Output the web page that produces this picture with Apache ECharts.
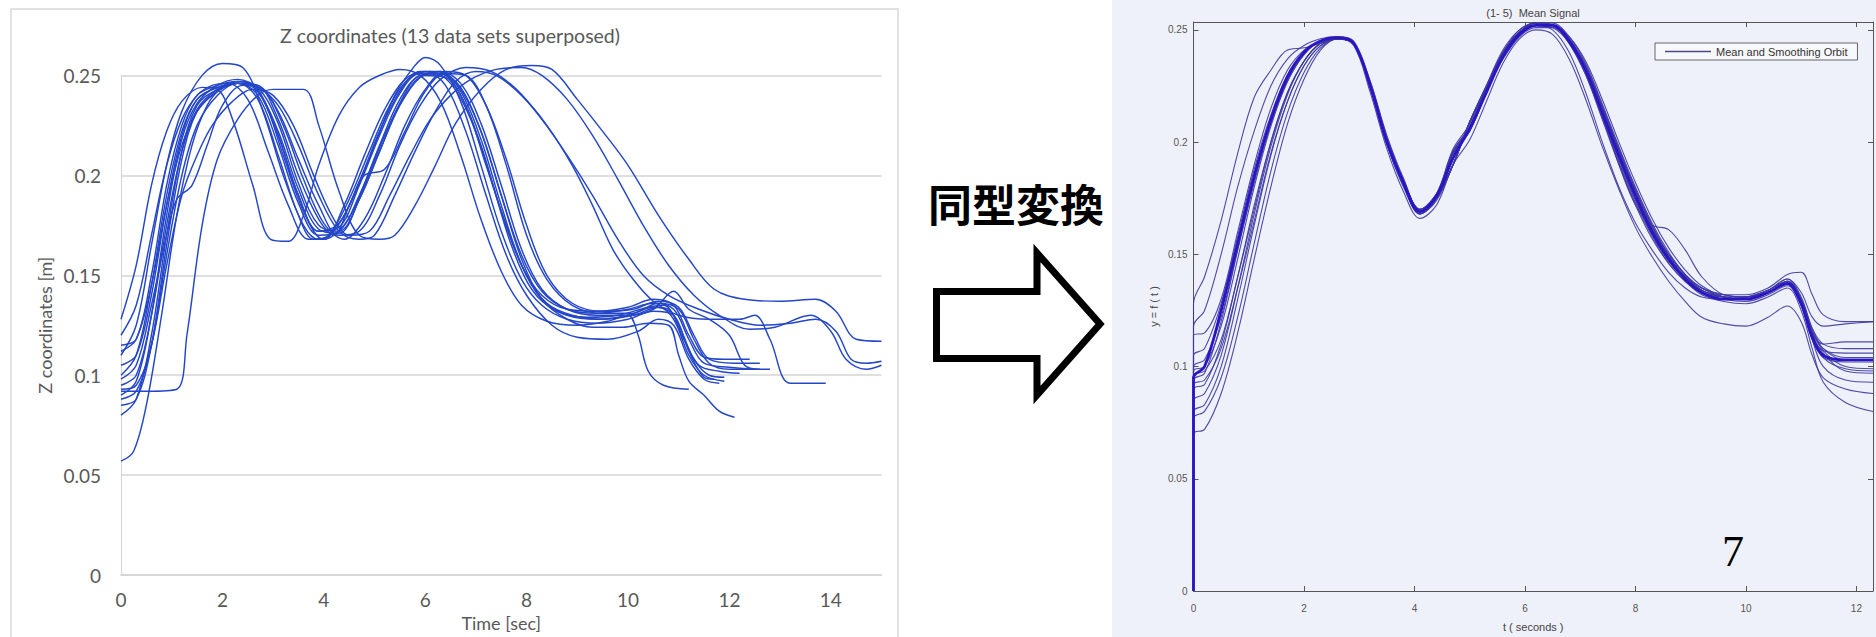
<!DOCTYPE html>
<html><head><meta charset="utf-8">
<script src="https://cdn.jsdelivr.net/npm/echarts@6/dist/echarts.min.js"></script>
<style>html,body{margin:0;padding:0;background:#fff}#c{width:1876px;height:637px}</style>
</head><body><div id="c"></div>
<script>
// ---------- left chart: Z coordinates (time [s], z [m]) ----------
const leftTitle = 'Z coordinates (13 data sets superposed)';
const leftXName = 'Time [sec]';
const leftYName = 'Z coordinates [m]';
const leftXTicks = [0, 2, 4, 6, 8, 10, 12, 14];
const leftXTickLabels = ['0', '2', '4', '6', '8', '10', '12', '14'];
const leftYTicks = [0, 0.05, 0.1, 0.15, 0.2, 0.25];
const leftYTickLabels = ['0', '0.05', '0.1', '0.15', '0.2', '0.25'];

const zSet01 = [[0,0.057],[0.25,0.062],[0.5,0.085],[0.8,0.13],[1.1,0.18],[1.4,0.215],[1.7,0.235],[2.0,0.244],[2.4,0.247],[2.8,0.238],[3.2,0.21],[3.6,0.182],[4.0,0.168],[4.4,0.175],[4.8,0.195],[5.2,0.22],[5.6,0.24],[6.0,0.25],[6.4,0.249],[6.8,0.235],[7.2,0.205],[7.6,0.175],[8.0,0.15],[8.4,0.136],[8.9,0.13],[9.5,0.128],[10.1,0.13],[10.6,0.134],[10.9,0.128],[11.2,0.11],[11.5,0.1],[11.9,0.097]];
const zSet02 = [[0,0.092],[0.5,0.092],[1.1,0.093],[1.3,0.12],[1.6,0.175],[1.9,0.208],[2.3,0.228],[2.7,0.24],[3.0,0.243],[3.6,0.243],[3.9,0.225],[4.3,0.192],[4.7,0.17],[5.1,0.168],[5.4,0.17],[5.8,0.185],[6.2,0.205],[6.6,0.226],[7.1,0.243],[7.6,0.253],[8.1,0.255],[8.5,0.253],[9.0,0.238],[9.5,0.222],[10.0,0.205],[10.6,0.18],[11.2,0.158],[11.7,0.143],[12.3,0.138],[13.0,0.137],[13.7,0.138],[14.1,0.132],[14.5,0.118],[15,0.117]];
const zSet03 = [[0,0.128],[0.3,0.155],[0.6,0.195],[0.9,0.222],[1.2,0.237],[1.6,0.244],[1.9,0.243],[2.2,0.228],[2.6,0.195],[2.95,0.168],[3.3,0.167],[3.6,0.18],[3.9,0.205],[4.3,0.23],[4.7,0.244],[5.1,0.25],[5.5,0.253],[5.9,0.25],[6.3,0.237],[6.7,0.21],[7.1,0.178],[7.5,0.152],[7.9,0.135],[8.4,0.127],[9.0,0.125],[9.6,0.127],[10.0,0.13],[10.2,0.12],[10.4,0.102],[10.7,0.095],[11.2,0.093]];
const zSet04 = [[0,0.11],[0.3,0.125],[0.6,0.165],[0.9,0.205],[1.2,0.232],[1.6,0.25],[2.0,0.256],[2.4,0.254],[2.8,0.232],[3.2,0.2],[3.6,0.175],[3.9,0.168],[4.2,0.172],[4.6,0.19],[5.0,0.215],[5.4,0.24],[5.8,0.255],[6.0,0.259],[6.3,0.255],[6.7,0.237],[7.1,0.205],[7.5,0.172],[7.9,0.148],[8.3,0.135],[8.8,0.128],[9.4,0.126],[10.0,0.128],[10.5,0.132],[10.9,0.13],[11.2,0.112],[11.5,0.099],[11.7,0.098]];
const zSet05 = [[0,0.08],[0.3,0.088],[0.6,0.12],[0.9,0.17],[1.2,0.212],[1.5,0.235],[1.9,0.243],[2.3,0.246],[2.7,0.24],[3.1,0.215],[3.5,0.186],[3.9,0.17],[4.3,0.172],[4.7,0.19],[5.1,0.215],[5.5,0.238],[5.9,0.25],[6.3,0.251],[6.7,0.243],[7.1,0.222],[7.5,0.19],[7.9,0.16],[8.3,0.142],[8.8,0.133],[9.4,0.131],[10.0,0.133],[10.5,0.136],[10.9,0.133],[11.2,0.118],[11.5,0.106],[12.0,0.104],[12.5,0.103]];
const zSet06 = [[0,0.09],[0.3,0.097],[0.6,0.13],[0.9,0.18],[1.2,0.218],[1.5,0.236],[1.9,0.245],[2.3,0.248],[2.7,0.243],[3.1,0.22],[3.5,0.19],[3.9,0.172],[4.3,0.176],[4.7,0.197],[5.1,0.222],[5.5,0.242],[5.9,0.252],[6.3,0.252],[6.7,0.242],[7.1,0.218],[7.5,0.185],[7.9,0.155],[8.3,0.138],[8.8,0.13],[9.4,0.128],[10.0,0.13],[10.5,0.134],[10.8,0.133],[11.1,0.118],[11.4,0.105],[11.8,0.102],[12.2,0.101]];
const zSet07 = [[0,0.1],[0.3,0.11],[0.6,0.145],[0.9,0.19],[1.2,0.222],[1.5,0.238],[1.9,0.244],[2.3,0.246],[2.7,0.238],[3.1,0.21],[3.5,0.18],[3.8,0.168],[4.1,0.17],[4.5,0.188],[4.9,0.212],[5.3,0.235],[5.7,0.249],[6.1,0.252],[6.5,0.246],[6.9,0.228],[7.3,0.198],[7.7,0.165],[8.1,0.143],[8.6,0.132],[9.2,0.129],[9.8,0.13],[10.4,0.134],[10.7,0.135],[11.0,0.125],[11.3,0.108],[11.6,0.1],[11.9,0.099]];
const zSet08 = [[0,0.115],[0.3,0.118],[0.6,0.15],[0.9,0.195],[1.2,0.225],[1.5,0.24],[1.9,0.245],[2.3,0.247],[2.7,0.242],[3.1,0.22],[3.5,0.19],[3.9,0.172],[4.3,0.174],[4.7,0.195],[5.1,0.22],[5.5,0.241],[5.9,0.251],[6.3,0.251],[6.7,0.24],[7.1,0.215],[7.5,0.182],[7.9,0.155],[8.3,0.14],[8.8,0.133],[9.4,0.132],[10.0,0.134],[10.5,0.138],[10.9,0.135],[11.2,0.12],[11.5,0.109],[11.9,0.108],[12.4,0.108]];
const zSet09 = [[0,0.088],[0.3,0.092],[0.6,0.115],[0.9,0.16],[1.2,0.2],[1.5,0.225],[1.9,0.24],[2.3,0.246],[2.7,0.245],[3.1,0.228],[3.5,0.2],[3.9,0.178],[4.2,0.17],[4.5,0.185],[4.8,0.2],[5.2,0.203],[5.6,0.222],[6.0,0.242],[6.4,0.251],[6.8,0.25],[7.2,0.235],[7.6,0.205],[8.0,0.17],[8.4,0.148],[8.9,0.135],[9.5,0.131],[10.1,0.131],[10.6,0.136],[11.0,0.133],[11.3,0.118],[11.6,0.106],[12.0,0.103],[12.8,0.103]];
const zSet10 = [[0,0.105],[0.3,0.11],[0.6,0.14],[0.9,0.185],[1.2,0.22],[1.5,0.238],[1.9,0.244],[2.3,0.246],[2.7,0.244],[3.1,0.235],[3.5,0.215],[3.9,0.19],[4.3,0.172],[4.7,0.168],[5.0,0.17],[5.4,0.19],[5.8,0.212],[6.2,0.232],[6.6,0.247],[7.0,0.252],[7.4,0.25],[7.9,0.24],[8.4,0.225],[8.9,0.205],[9.3,0.185],[9.7,0.163],[10.1,0.148],[10.5,0.137],[11.0,0.13],[11.6,0.128],[12.2,0.128],[12.5,0.13],[12.8,0.118],[13.2,0.096],[13.9,0.096]];
const zSet11 = [[0,0.093],[0.3,0.095],[0.6,0.115],[0.9,0.155],[1.2,0.19],[1.5,0.21],[1.8,0.225],[2.2,0.237],[2.6,0.243],[3.0,0.24],[3.4,0.225],[3.8,0.2],[4.2,0.178],[4.5,0.17],[4.9,0.172],[5.3,0.19],[5.7,0.21],[6.1,0.228],[6.5,0.24],[6.9,0.248],[7.4,0.253],[7.9,0.254],[8.3,0.25],[8.8,0.238],[9.3,0.22],[9.8,0.198],[10.3,0.175],[10.8,0.155],[11.3,0.14],[11.8,0.13],[12.4,0.123],[12.9,0.124],[13.6,0.13],[14.0,0.122],[14.3,0.108],[14.7,0.103],[15,0.105]];
const zSet12 = [[0,0.112],[0.3,0.118],[0.6,0.145],[0.9,0.185],[1.2,0.215],[1.5,0.232],[1.9,0.242],[2.3,0.246],[2.7,0.245],[3.1,0.232],[3.5,0.208],[3.9,0.185],[4.3,0.17],[4.7,0.172],[5.1,0.19],[5.5,0.215],[5.9,0.235],[6.3,0.248],[6.8,0.254],[7.3,0.252],[7.8,0.243],[8.3,0.228],[8.8,0.21],[9.3,0.19],[9.8,0.168],[10.3,0.15],[10.8,0.14],[11.4,0.133],[12.0,0.128],[12.6,0.125],[13.2,0.126],[13.7,0.128],[14.1,0.122],[14.4,0.108],[14.7,0.106],[15,0.107]];
const zSet13 = [[0,0.095],[0.3,0.1],[0.6,0.13],[0.9,0.175],[1.2,0.212],[1.5,0.233],[1.9,0.243],[2.3,0.247],[2.7,0.244],[3.1,0.226],[3.5,0.196],[3.9,0.175],[4.3,0.172],[4.7,0.188],[5.1,0.212],[5.5,0.235],[5.9,0.249],[6.3,0.252],[6.7,0.246],[7.1,0.226],[7.5,0.195],[7.9,0.163],[8.3,0.143],[8.8,0.133],[9.4,0.13],[10.0,0.13],[10.5,0.133],[10.9,0.142],[11.2,0.133],[11.6,0.128],[12.0,0.12],[12.3,0.105],[12.6,0.103]];
const zSet14 = [[0,0.085],[0.3,0.088],[0.6,0.115],[0.9,0.165],[1.2,0.208],[1.5,0.232],[1.9,0.242],[2.3,0.246],[2.7,0.242],[3.1,0.222],[3.5,0.193],[3.9,0.173],[4.3,0.171],[4.7,0.188],[5.1,0.212],[5.5,0.236],[5.9,0.25],[6.3,0.251],[6.7,0.244],[7.1,0.222],[7.5,0.19],[7.9,0.158],[8.3,0.138],[8.8,0.128],[9.3,0.124],[9.9,0.124],[10.4,0.126],[10.8,0.125],[11.0,0.11],[11.2,0.097],[11.5,0.09],[11.8,0.082],[12.1,0.079]];
const zSet15 = [[0,0.12],[0.3,0.135],[0.6,0.17],[0.9,0.205],[1.2,0.228],[1.5,0.24],[1.8,0.245],[2.1,0.246],[2.5,0.238],[2.9,0.212],[3.3,0.185],[3.7,0.168],[4.0,0.168],[4.4,0.185],[4.8,0.21],[5.2,0.233],[5.6,0.248],[6.0,0.252],[6.4,0.245],[6.8,0.222],[7.2,0.19],[7.6,0.16],[8.0,0.14],[8.5,0.125],[9.0,0.119],[9.6,0.118],[10.2,0.122],[10.6,0.128],[10.9,0.125],[11.2,0.108],[11.5,0.098],[11.8,0.096]];
const zSet16 = [[0,0.098],[0.3,0.105],[0.6,0.135],[0.9,0.17],[1.1,0.188],[1.4,0.195],[1.7,0.215],[2.0,0.235],[2.4,0.245],[2.8,0.243],[3.2,0.225],[3.6,0.198],[4.0,0.176],[4.4,0.168],[4.8,0.178],[5.2,0.2],[5.6,0.225],[6.0,0.243],[6.4,0.252],[6.8,0.25],[7.2,0.235],[7.6,0.208],[8.0,0.175],[8.4,0.15],[8.9,0.136],[9.5,0.132],[10.1,0.133],[10.6,0.137],[11.0,0.134],[11.3,0.12],[11.6,0.108],[12.1,0.106],[12.6,0.106]];
const leftSets = [zSet01,zSet02,zSet03,zSet04,zSet05,zSet06,zSet07,zSet08,zSet09,zSet10,zSet11,zSet12,zSet13,zSet14,zSet15,zSet16];

// ---------- right chart: (1- 5) Mean Signal ----------
const rightTitle = '(1- 5)  Mean Signal';
const rightXName = 't ( seconds )';
const rightYName = 'y = f ( t )';
const rightLegendName = 'Mean and Smoothing Orbit';
const rightXTicks = [0, 2, 4, 6, 8, 10, 12];
const rightXTickLabels = ['0', '2', '4', '6', '8', '10', '12'];
const rightYTicks = [0, 0.05, 0.1, 0.15, 0.2, 0.25];
const rightYTickLabels = ['0', '0.05', '0.1', '0.15', '0.2', '0.25'];
const rightT = [0,0,0.2,0.5,0.8,1.1,1.4,1.7,2.0,2.3,2.6,2.9,3.2,3.5,3.8,4.1,4.4,4.7,5.0,5.3,5.6,5.9,6.2,6.5,6.8,7.1,7.4,7.7,8.0,8.3,8.6,8.9,9.2,9.6,10.0,10.4,10.75,11.0,11.2,11.4,11.8,12.3];
const fSig01 = [0,0.128,0.14,0.165,0.195,0.22,0.232,0.241,0.242,0.244,0.246,0.244,0.226,0.202,0.183,0.17,0.177,0.196,0.206,0.224,0.24,0.249,0.252,0.25,0.24,0.222,0.2,0.18,0.164,0.152,0.142,0.135,0.131,0.13,0.131,0.134,0.138,0.13,0.117,0.11,0.108,0.108];
const fSig02 = [0,0.118,0.125,0.15,0.18,0.205,0.225,0.237,0.243,0.246,0.247,0.245,0.227,0.203,0.184,0.17,0.175,0.19,0.209,0.224,0.239,0.249,0.253,0.252,0.244,0.23,0.21,0.19,0.172,0.157,0.146,0.138,0.133,0.131,0.131,0.134,0.139,0.133,0.122,0.118,0.119,0.12];
const fSig03 = [0,0.114,0.115,0.13,0.16,0.19,0.215,0.232,0.241,0.245,0.246,0.244,0.225,0.2,0.182,0.169,0.176,0.196,0.207,0.224,0.24,0.249,0.253,0.252,0.245,0.232,0.213,0.193,0.175,0.159,0.147,0.139,0.133,0.13,0.13,0.133,0.137,0.128,0.115,0.11,0.111,0.111];
const fSig04 = [0,0.105,0.108,0.128,0.158,0.188,0.212,0.23,0.24,0.245,0.246,0.244,0.224,0.199,0.181,0.168,0.175,0.19,0.209,0.224,0.238,0.248,0.252,0.252,0.246,0.233,0.215,0.196,0.178,0.162,0.149,0.14,0.134,0.131,0.131,0.134,0.138,0.129,0.114,0.107,0.106,0.106];
const fSig05 = [0,0.098,0.1,0.118,0.148,0.18,0.207,0.227,0.239,0.245,0.246,0.244,0.225,0.2,0.181,0.169,0.176,0.196,0.206,0.223,0.239,0.249,0.252,0.251,0.244,0.23,0.211,0.192,0.174,0.159,0.147,0.139,0.133,0.13,0.129,0.132,0.136,0.127,0.112,0.104,0.102,0.102];
const fSig06 = [0,0.096,0.098,0.112,0.14,0.172,0.2,0.222,0.236,0.244,0.246,0.244,0.226,0.201,0.182,0.169,0.175,0.19,0.209,0.223,0.237,0.247,0.251,0.251,0.245,0.232,0.214,0.195,0.177,0.161,0.149,0.14,0.134,0.131,0.13,0.133,0.137,0.129,0.115,0.108,0.104,0.104];
const fSig07 = [0,0.094,0.097,0.12,0.152,0.183,0.209,0.228,0.24,0.245,0.246,0.244,0.224,0.199,0.18,0.168,0.175,0.195,0.205,0.222,0.238,0.248,0.252,0.252,0.246,0.234,0.216,0.197,0.179,0.163,0.15,0.141,0.135,0.131,0.13,0.133,0.138,0.13,0.116,0.107,0.1,0.099];
const fSig08 = [0,0.092,0.094,0.108,0.135,0.165,0.195,0.218,0.234,0.243,0.246,0.244,0.225,0.2,0.181,0.168,0.174,0.19,0.209,0.223,0.237,0.247,0.252,0.252,0.246,0.233,0.215,0.196,0.178,0.162,0.15,0.141,0.135,0.132,0.131,0.134,0.139,0.131,0.117,0.108,0.103,0.103];
const fSig09 = [0,0.09,0.092,0.11,0.14,0.17,0.2,0.222,0.236,0.244,0.246,0.244,0.226,0.202,0.183,0.17,0.177,0.197,0.208,0.225,0.241,0.25,0.253,0.252,0.245,0.232,0.212,0.19,0.172,0.163,0.161,0.152,0.14,0.132,0.131,0.133,0.137,0.129,0.114,0.106,0.098,0.097];
const fSig10 = [0,0.085,0.088,0.105,0.135,0.168,0.198,0.221,0.236,0.244,0.246,0.243,0.222,0.197,0.178,0.166,0.172,0.19,0.201,0.218,0.235,0.246,0.25,0.248,0.237,0.219,0.198,0.179,0.162,0.149,0.138,0.129,0.122,0.119,0.118,0.122,0.127,0.12,0.105,0.095,0.09,0.088];
const fSig11 = [0,0.08,0.083,0.1,0.13,0.163,0.194,0.218,0.234,0.243,0.246,0.244,0.226,0.201,0.182,0.169,0.176,0.19,0.209,0.225,0.239,0.249,0.253,0.253,0.247,0.235,0.217,0.198,0.18,0.164,0.151,0.141,0.135,0.131,0.13,0.133,0.137,0.128,0.112,0.1,0.094,0.093];
const fSig12 = [0,0.077,0.08,0.095,0.122,0.155,0.187,0.213,0.231,0.242,0.246,0.244,0.225,0.2,0.181,0.168,0.175,0.195,0.205,0.222,0.238,0.248,0.252,0.252,0.246,0.234,0.216,0.197,0.179,0.163,0.15,0.141,0.134,0.131,0.13,0.133,0.138,0.13,0.115,0.104,0.099,0.098];
const fSig13 = [0,0.07,0.072,0.088,0.115,0.148,0.18,0.208,0.228,0.241,0.246,0.244,0.227,0.202,0.183,0.17,0.177,0.19,0.209,0.225,0.24,0.25,0.253,0.252,0.245,0.231,0.211,0.191,0.173,0.158,0.146,0.138,0.132,0.129,0.128,0.131,0.135,0.125,0.108,0.093,0.084,0.08];
const fSig14 = [0,0.1,0.103,0.122,0.152,0.182,0.208,0.227,0.239,0.245,0.246,0.244,0.226,0.201,0.182,0.169,0.176,0.195,0.205,0.222,0.238,0.248,0.252,0.252,0.247,0.236,0.219,0.2,0.182,0.166,0.153,0.143,0.136,0.132,0.132,0.135,0.141,0.142,0.132,0.123,0.12,0.12];
const fMean  = [0,0.095,0.1,0.125,0.155,0.185,0.21,0.229,0.24,0.245,0.2465,0.244,0.225,0.2,0.182,0.169,0.176,0.193,0.206,0.222,0.238,0.248,0.252,0.252,0.245,0.232,0.213,0.194,0.176,0.16,0.148,0.139,0.133,0.13,0.13,0.133,0.137,0.128,0.113,0.105,0.103,0.103];
const rightSets = [fSig01,fSig02,fSig03,fSig04,fSig05,fSig06,fSig07,fSig08,fSig09,fSig10,fSig11,fSig12,fSig13,fSig14];

// ---------- annotations ----------
const arrowCaption = '同型変換';
const pageNumber = '7';

// ---------- build ----------
function tickFormatter(ticks, labels) {
  return function (v) {
    for (let i = 0; i < ticks.length; i++) if (Math.abs(ticks[i] - v) < 1e-9) return labels[i];
    return '';
  };
}
function zip(xs, ys) { return ys.map((y, i) => [xs[i], y]); }

const series = [];
leftSets.forEach((d, i) => series.push({
  type: 'line', name: 'z' + (i + 1), xAxisIndex: 0, yAxisIndex: 0, data: d,
  smooth: 0.35, symbol: 'none', clip: false, silent: true,
  lineStyle: { color: '#2446c8', width: 1.45 }
}));
rightSets.forEach((d, i) => series.push({
  type: 'line', name: 'f' + (i + 1), xAxisIndex: 1, yAxisIndex: 1, data: zip(rightT, d),
  smooth: 0.35, symbol: 'none', silent: true,
  lineStyle: { color: '#3c37a0', width: 1.1, opacity: 0.9 }
}));
series.push({
  type: 'line', name: rightLegendName, xAxisIndex: 1, yAxisIndex: 1, data: zip(rightT, fMean),
  smooth: 0.35, symbol: 'none', silent: true,
  itemStyle: { color: '#4a4a80' },
  lineStyle: { color: '#2a14c4', width: 2.8 }
});

const leftFont = 'Lato';
const rightFont = 'Liberation Sans';
const rightAxisCommon = {
  type: 'value', gridIndex: 1,
  axisLine: { show: true, onZero: false, lineStyle: { color: '#555', width: 1 } },
  axisTick: { show: true, inside: true, length: 5, lineStyle: { color: '#555' } },
  splitLine: { show: false }
};

const option = {
  animation: false,
  backgroundColor: '#ffffff',
  grid: [
    { left: 121, top: 75.4, width: 760.5, height: 508.4 },
    { left: 1193.5, top: 22, width: 681, height: 572.6 }
  ],
  legend: {
    data: [{ name: rightLegendName, icon: 'rect' }], left: 1655, top: 43,
    padding: [3, 10, 3, 10], itemWidth: 46, itemHeight: 1.5, itemGap: 6,
    borderColor: '#666', borderWidth: 1, borderRadius: 0, backgroundColor: '#f7f8fc',
    itemStyle: { color: '#4a4a80', borderWidth: 0 },
    textStyle: { fontFamily: rightFont, fontSize: 11, color: '#333' },
    selectedMode: false
  },
  xAxis: [
    { type: 'value', gridIndex: 0, min: 0, max: 15, interval: 2,
      axisLine: { show: true, lineStyle: { color: '#d4d4d4', width: 1.5 } },
      axisTick: { show: false }, splitLine: { show: false },
      axisLabel: { fontFamily: leftFont, fontSize: 19, color: '#595959', margin: 15,
                   formatter: tickFormatter(leftXTicks, leftXTickLabels) },
      name: leftXName, nameLocation: 'middle', nameGap: 37,
      nameTextStyle: { fontFamily: leftFont, fontSize: 18, color: '#595959' } },
    Object.assign({}, rightAxisCommon, { min: 0, max: 12.3, interval: 2, position: 'bottom',
      axisLabel: { fontFamily: rightFont, fontSize: 10, color: '#555', margin: 12,
                   formatter: tickFormatter(rightXTicks, rightXTickLabels) },
      name: rightXName, nameLocation: 'middle', nameGap: 30,
      nameTextStyle: { fontFamily: rightFont, fontSize: 11, color: '#444' } }),
    Object.assign({}, rightAxisCommon, { min: 0, max: 12.3, interval: 2, position: 'top',
      axisLabel: { show: false } })
  ],
  yAxis: [
    { type: 'value', gridIndex: 0, min: 0, max: 0.25, interval: 0.05,
      axisLine: { show: true, lineStyle: { color: '#d4d4d4', width: 1 } },
      axisTick: { show: false },
      splitLine: { show: true, lineStyle: { color: '#d4d4d4', width: 1.5 } },
      axisLabel: { fontFamily: leftFont, fontSize: 19, color: '#595959', margin: 20,
                   formatter: tickFormatter(leftYTicks, leftYTickLabels) },
      name: leftYName, nameLocation: 'middle', nameGap: 67,
      nameTextStyle: { fontFamily: leftFont, fontSize: 18, color: '#595959' } },
    Object.assign({}, rightAxisCommon, { min: 0, max: 0.2535, interval: 0.05, position: 'left',
      axisLabel: { fontFamily: rightFont, fontSize: 10, color: '#555', margin: 6,
                   formatter: tickFormatter(rightYTicks, rightYTickLabels) },
      name: rightYName, nameLocation: 'middle', nameGap: 34,
      nameTextStyle: { fontFamily: rightFont, fontSize: 11, color: '#444' } }),
    Object.assign({}, rightAxisCommon, { min: 0, max: 0.2535, interval: 0.05, position: 'right',
      axisLabel: { show: false } })
  ],
  graphic: [
    { type: 'rect', silent: true, z: -10, shape: { x: 1112, y: 0, width: 764, height: 637 },
      style: { fill: '#eff1fa' } },
    { type: 'rect', silent: true, z: -10, shape: { x: 11, y: 9, width: 887, height: 640 },
      style: { fill: '#ffffff', stroke: '#d9d9d9', lineWidth: 1.5 } },
    { type: 'text', silent: true, z: 50, x: 450, y: 35,
      style: { text: leftTitle, fontFamily: leftFont, fontSize: 19.5, fill: '#595959',
               align: 'center', verticalAlign: 'middle' } },
    { type: 'text', silent: true, z: 50, x: 1533, y: 13,
      style: { text: rightTitle, fontFamily: rightFont, fontSize: 11, fill: '#444',
               align: 'center', verticalAlign: 'middle' } },
    { type: 'text', silent: true, z: 50, x: 1016, y: 203,
      style: { text: arrowCaption, fontFamily: 'Noto Sans CJK JP', fontWeight: 'bold', fontSize: 44,
               fill: '#000', align: 'center', verticalAlign: 'middle' } },
    { type: 'polygon', silent: true, z: 50,
      shape: { points: [[936.5,291.5],[1037,291.5],[1037,253],[1100,324],[1037,395],[1037,358.5],[936.5,358.5]] },
      style: { fill: '#ffffff', stroke: '#000', lineWidth: 7, lineJoin: 'miter' } },
    { type: 'text', silent: true, z: 50, x: 1733, y: 551,
      style: { text: pageNumber, fontFamily: 'Liberation Serif', fontSize: 44, fill: '#000',
               align: 'center', verticalAlign: 'middle' } }
  ],
  series: series
};

const chart = echarts.init(document.getElementById('c'), null, { renderer: 'svg', width: 1876, height: 637 });
chart.setOption(option);
</script></body></html>
